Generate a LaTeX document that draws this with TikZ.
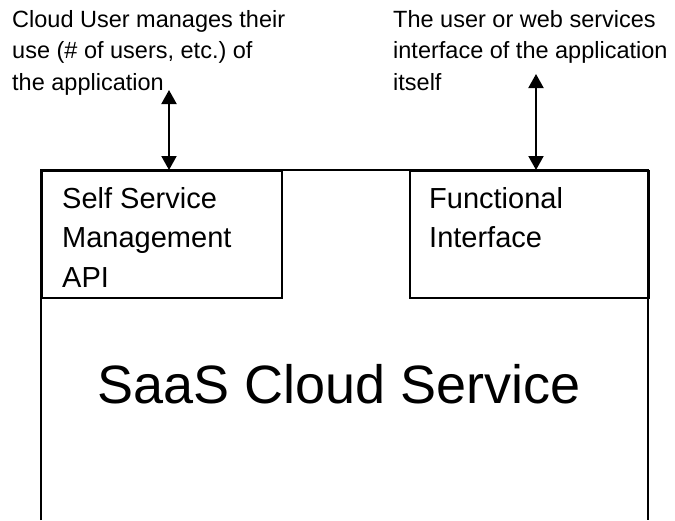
\documentclass[tikz,border=0pt]{standalone}
\usepackage{fontspec}
\setmainfont{Liberation Sans}
\usetikzlibrary{arrows.meta}
\begin{document}
\begin{tikzpicture}[x=1pt,y=-1pt,
  frame/.style={line width=1.6pt},
  subbox/.style={draw, line width=1.6pt, rectangle, inner sep=0pt, anchor=north west},
  note/.style={anchor=base west, align=left, inner sep=0pt,
    font=\fontsize{23.5}{31.5}\selectfont},
  boxtext/.style={anchor=base west, align=left, inner sep=0pt,
    font=\fontsize{29}{39.5}\selectfont},
  link/.style={line width=2pt, {Triangle[width=15pt,length=14pt]}-{Triangle[width=15pt,length=14pt]}}
]
\useasboundingbox (0,0) rectangle (675,520);

% outer service frame, open at the bottom
\coordinate (bl) at (41,520);
\coordinate (tl) at (41,170);
\coordinate (tr) at (648,170);
\coordinate (br) at (648,520);
\draw[frame] (bl) -- (tl) -- (tr) -- (br);

% interface boxes
\node[subbox, minimum width=240pt, minimum height=127pt] (mgmt) at (41,170) {};
\node[subbox, minimum width=239pt, minimum height=127pt] (func) at (409,170) {};

% multi-line texts are placed by the baseline of their last line
\node[boxtext] (mgmttext) at (62,287) {Self Service\\Management\\API};
\node[boxtext] (functext) at (429,247.5) {Functional\\Interface};

\node[anchor=base, inner sep=0pt, font=\fontsize{54}{60}\selectfont] (saas) at (339,403) {SaaS Cloud Service};

% captions above
\node[note] (usernote) at (12,90) {Cloud User manages their\\use (\# of users, etc.)\ of\\the application};
\node[note] (funcnote) at (393,90) {The user or web services\\interface of the application\\itself};

% two-way connectors
\coordinate (mgmttop) at (169,90);
\coordinate (functop) at (536,74);
\draw[link] (mgmttop) -- (mgmttop |- mgmt.north);
\draw[link] (functop) -- (functop |- func.north);
\end{tikzpicture}
\end{document}
